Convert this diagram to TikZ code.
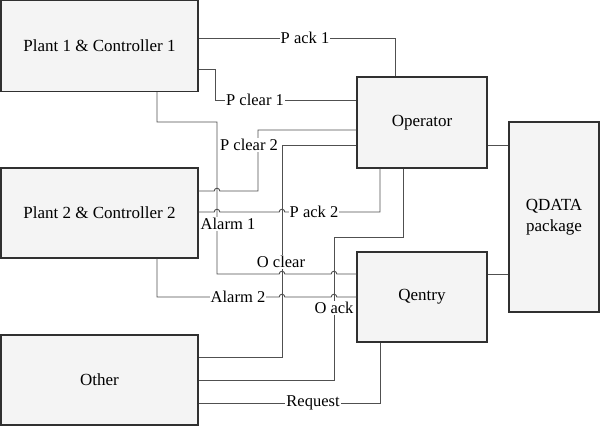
\documentclass[tikz,border=0pt]{standalone}
\usepackage{fontspec}
\setmainfont{Liberation Serif}
\definecolor{boxfill}{HTML}{F4F4F4}
\definecolor{boxline}{HTML}{303030}
\definecolor{connline}{HTML}{505050}
\begin{document}
\begin{tikzpicture}[x=1pt,y=-1pt,
  blk/.style={draw=boxline,fill=boxfill,line width=1.3pt,inner sep=0pt,
    font=\fontsize{17}{21}\selectfont,align=center},
  conn/.style={draw=connline,line width=0.9pt},
  lbl/.style={fill=white,inner sep=1pt,font=\fontsize{16.5}{20}\selectfont},
  jr/.style={radius=2.8pt}]
\useasboundingbox (0,0) rectangle (601,427);
% blocks
\node[blk,minimum width=197pt,minimum height=91pt] (p1) at (99.5,46) {Plant 1 \& Controller 1};
\node[blk,minimum width=197pt,minimum height=90pt] (p2) at (99.5,213) {Plant 2 \& Controller 2};
\node[blk,minimum width=197pt,minimum height=90pt] (oth) at (99.5,380) {Other};
\node[blk,minimum width=130pt,minimum height=91pt] (op) at (422,122.5) {Operator};
\node[blk,minimum width=130pt,minimum height=90pt] (qe) at (422,297) {Qentry};
\node[blk,minimum width=90pt,minimum height=190pt] (qd) at (554,217) {QDATA\\package};
% connectors
% P ack 1
\draw[conn] (p1.east |- 0,38) -| (op.north -| 395,0);
% P clear 1
\draw[conn] (p1.east |- 0,69) -| (215,100) -- (op.west |- 0,100);
% Alarm 1
\draw[conn] (p1.south -| 157,0) |- (217,122) -- (217,274)
  -- (279.2,274) arc[start angle=180,end angle=0,jr]
  -- (331.2,274) arc[start angle=180,end angle=0,jr]
  -- (qe.west |- 0,274);
% P clear 2
\draw[conn] (op.west |- 0,130) -| (258,191)
  -- (219.8,191) arc[start angle=0,end angle=180,jr]
  -- (p2.east |- 0,191);
% P ack 2
\draw[conn] (p2.east |- 0,212)
  -- (214.2,212) arc[start angle=180,end angle=0,jr]
  -- (279.2,212) arc[start angle=180,end angle=0,jr]
  -- (380,212) -- (op.south -| 380,0);
% O clear
\draw[conn] (op.west |- 0,145) -| (282,357) -- (oth.east |- 0,357);
% O ack
\draw[conn] (op.south -| 403,0) |- (334,237) -- (334,380) -- (oth.east |- 0,380);
% Alarm 2
\draw[conn] (p2.south -| 157,0) |- (279.2,297) arc[start angle=180,end angle=0,jr]
  -- (331.2,297) arc[start angle=180,end angle=0,jr]
  -- (qe.west |- 0,297);
% Request
\draw[conn] (qe.south -| 380,0) |- (oth.east |- 0,403);
% to QDATA
\draw[conn] (op.east |- 0,145) -- (qd.west |- 0,145);
\draw[conn] (qe.east |- 0,274) -- (qd.west |- 0,274);
% labels
\node[lbl] (lpack1) at (305,38) {P ack 1};
\node[lbl] (lpclear1) at (255,100) {P clear 1};
\node[lbl] (lpclear2) at (249,145) {P clear 2};
\node[lbl] (lpack2) at (314,212) {P ack 2};
\node[lbl] (lalarm1) at (228,224) {Alarm 1};
\node[lbl] (loclear) at (281,262) {O clear};
\node[lbl] (lalarm2) at (238,297) {Alarm 2};
\node[lbl] (loack) at (334,308) {O ack};
\node[lbl] (lrequest) at (313,403) {Request};
\end{tikzpicture}
\end{document}
